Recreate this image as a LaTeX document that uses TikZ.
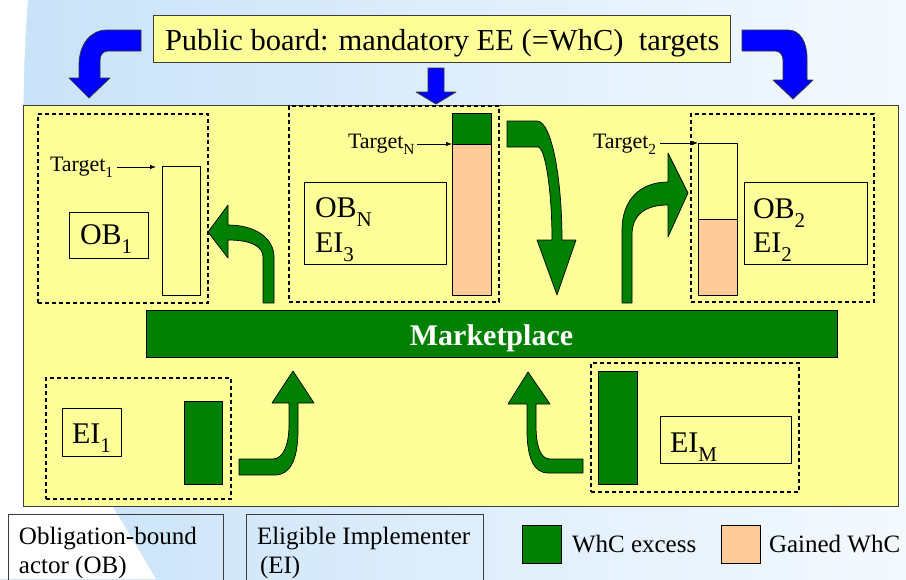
\documentclass[tikz,border=0pt]{standalone}
\usepackage{fontspec}
\setmainfont{Liberation Serif}
\usetikzlibrary{arrows.meta}
\definecolor{yel}{RGB}{255,255,153}
\definecolor{grn}{RGB}{0,128,0}
\definecolor{pch}{RGB}{255,204,153}
\definecolor{blu}{RGB}{0,0,255}
\definecolor{bgb}{RGB}{200,226,248}
\definecolor{bgw}{RGB}{244,249,254}
\definecolor{edge}{RGB}{60,60,60}
\newcommand\lo[1]{\raisebox{-0.3em}{\scalebox{0.7}{#1}}}
\begin{document}
\begin{tikzpicture}[x=1pt,y=-1pt,
  wh/.style 2 args={minimum width=#1pt, minimum height=#2pt},
  bx/.style={draw=black, line width=0.8pt, inner sep=0pt, outer sep=0pt, anchor=north west},
  grp/.style={draw=black, line width=1.2pt, dash pattern=on 4pt off 3pt, inner sep=0pt, outer sep=0pt, anchor=north west},
  garrow/.style={fill=grn, draw=black, line width=0.7pt, line join=round},
  barrow/.style={fill=blu, draw=black!80, line width=0.7pt, line join=round},
  tx/.style={inner sep=0pt, outer sep=0pt, anchor=base west},
  f20/.style={font=\fontsize{22}{26}\selectfont},
  f25/.style={font=\fontsize{25}{30}\selectfont},
  f28/.style={font=\fontsize{30.5}{36}\selectfont},
  f30/.style={font=\fontsize{30}{36}\selectfont},
  tgt/.style={-{Latex[length=6pt,width=4.5pt]}, line width=0.8pt}
]
\useasboundingbox (0,0) rectangle (906,579);
\clip (0,0) rectangle (906,579);
% background
\shade[left color=bgb, right color=bgw] (0,0) rectangle (906,579);
\fill[white] (0,0) -- (28,0) .. controls (8,250) and (60,430) .. (113,507) -- (156,579) -- (0,579) -- cycle;

% blue arrows
\path[barrow] (141,30) -- (107,30) .. controls (90,30) and (79,45) .. (79,65) -- (79,78) -- (69,78) -- (89,98) -- (110,78) -- (100,78) -- (100,60) .. controls (100,55) and (103,51) .. (108,51) -- (141,51) -- cycle;
\path[barrow] (742,30) -- (788,30) .. controls (800,30) and (807,42) .. (807,58) -- (807,80) -- (813,80) -- (793,99) -- (773,80) -- (783,80) -- (783,60) .. controls (783,55) and (780,51) .. (775,51) -- (742,51) -- cycle;
\path[barrow] (428,68) -- (444,68) -- (444,92) -- (456,92) -- (436,104) -- (416,92) -- (428,92) -- cycle;

% title box
\node[bx, draw=edge, line width=1pt, fill=yel, wh={577}{47}] (tbox) at (153,15) {};
\node[tx, f28] (ttext) at (165,50) {Public board: mandatory EE (=WhC) \ targets};

% main yellow box
\node[bx, draw=edge, fill=yel, wh={875}{401}] (mainbox) at (23,105) {};

% groups
\node[grp, wh={170}{189}] (gob1) at (38,114) {};
\node[grp, wh={210}{196}] (gobN) at (289,106) {};
\node[grp, wh={183}{188}] (gob2) at (691,114) {};
\node[grp, wh={185}{121}] (gei1) at (46,378) {};
\node[grp, wh={208}{129}] (geiM) at (591,363) {};

% bars
\node[bx, wh={38}{129}] (bar1) at (162,166) {};
\node[bx, fill=grn, wh={39}{31}] (barNg) at (452,113) {};
\node[bx, fill=pch, wh={39}{151}] (barNp) at (452,144) {};
\node[bx, wh={39}{76}] (bar2e) at (698,143) {};
\node[bx, fill=pch, wh={39}{76}] (bar2p) at (698,219) {};
\node[bx, fill=grn, wh={38}{83}] (ei1bar) at (184,401) {};
\node[bx, fill=grn, wh={39}{113}] (eiMbar) at (598,371) {};

% label boxes
\node[bx, wh={79}{46}] (ob1lab) at (69,212) {};
\node[bx, wh={142}{82}] (obNlab) at (304,182) {};
\node[bx, wh={123}{82}] (ob2lab) at (744,182) {};
\node[bx, wh={59}{48}] (ei1lab) at (62,408) {};
\node[bx, wh={131}{47}] (eiMlab) at (660,416) {};

\node[tx, f30] (ob1t) at (80,244) {OB\lo{1}};
\node[tx, f30] (obNt1) at (315,217) {OB\lo{N}};
\node[tx, f30] (obNt2) at (315,252) {EI\lo{3}};
\node[tx, f30] (ob2t1) at (753,218) {OB\lo{2}};
\node[tx, f30] (ob2t2) at (753,252) {EI\lo{2}};
\node[tx, f30] (ei1t) at (72,443) {EI\lo{1}};
\node[tx, f30] (eiMt) at (670,452) {EI\lo{M}};

% targets
\node[tx, f20] (tg1) at (50,171) {Target\lo{1}};
\node[tx, f20] (tgN) at (348,148) {Target\lo{N}};
\node[tx, f20] (tg2) at (593,148) {Target\lo{2}};
\coordinate (tg1a) at (117,167);
\coordinate (tg1b) at (156,167);
\coordinate (tgNa) at (417,144);
\coordinate (tg2a) at (660,143);
\draw[tgt] (tg1a) -- (tg1b);
\draw[tgt] (tgNa) -- (barNp.north west);
\draw[tgt] (tg2a) -- (bar2e.north west);

% green arrows
\path[garrow] (263,303) -- (263,257) .. controls (263,246) and (250,240) .. (228,240) -- (228,258) -- (208,232) -- (228,205) -- (228,225) .. controls (255,225) and (274,238) .. (274,257) -- (274,303) -- cycle;
\path[garrow] (507,121) -- (537,121) .. controls (552,121) and (562,180) .. (562,240) -- (576,240) -- (557,295) -- (537,240) -- (552,240) .. controls (552,190) and (545,147) .. (538,147) -- (507,147) -- cycle;
\path[garrow] (622,303) -- (622,230) .. controls (622,200) and (640,182) .. (668,182) -- (668,153) -- (688,193) -- (668,237) -- (668,205) .. controls (645,205) and (632,215) .. (632,235) -- (632,303) -- cycle;
\path[garrow] (239,459) -- (273,459) .. controls (283,459) and (289,445) .. (289,425) -- (289,403) -- (272,403) -- (293,371) -- (314,403) -- (298,403) -- (298,430) .. controls (298,460) and (290,475) .. (275,475) -- (239,475) -- cycle;
\path[garrow] (583,459) -- (550,459) .. controls (540,459) and (536,445) .. (536,425) -- (536,404) -- (550,404) -- (528,372) -- (508,404) -- (527,404) -- (527,430) .. controls (527,460) and (535,473) .. (548,473) -- (583,473) -- cycle;

% marketplace
\node[bx, fill=grn, wh={691}{47}] (market) at (146,310) {};
\node[inner sep=0pt, anchor=base, font=\bfseries\fontsize{30}{36}\selectfont, text=white] (mtext) at (491.5,345) {Marketplace};

% legend
\node[bx, draw=edge, wh={215}{80}] (leg1) at (8,514) {};
\node[bx, draw=edge, wh={237}{80}] (leg2) at (246,514) {};
\node[tx, f25] (l1a) at (19,544) {Obligation-bound};
\node[tx, f25] (l1b) at (19,573) {actor (OB)};
\node[tx, f25] (l2a) at (257,544) {Eligible Implementer};
\node[tx, f25] (l2b) at (260,573) {(EI)};
\node[bx, fill=grn, wh={39}{38}] (sqg) at (522,525) {};
\node[tx, f25] (lg) at (572,552) {WhC excess};
\node[bx, fill=pch, wh={39}{38}] (sqp) at (721,525) {};
\node[tx, f25] (lp) at (769,552) {Gained WhC};
\end{tikzpicture}
\end{document}
